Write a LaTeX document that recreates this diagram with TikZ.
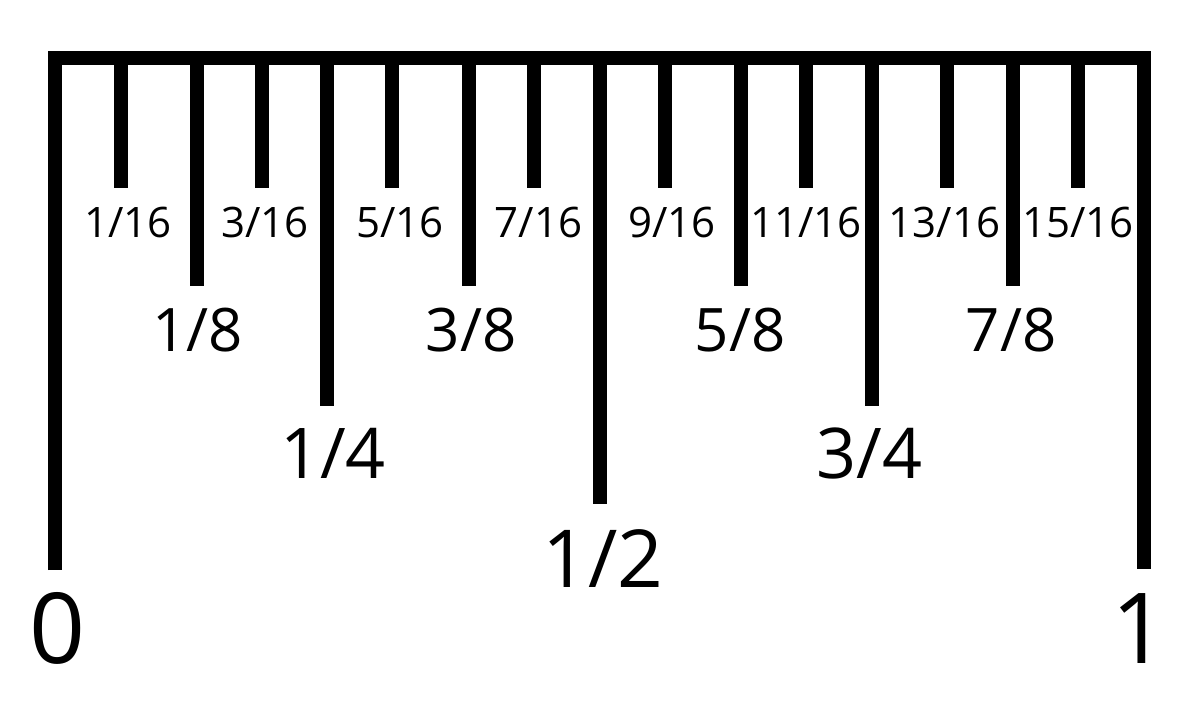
\documentclass[tikz,border=0pt]{standalone}
\usepackage{fontspec}
\setmainfont{Open Sans}
\begin{document}
\begin{tikzpicture}[x=1pt,y=-1pt,
  rul/.style={line width=14pt,line join=miter,line cap=butt,black},
  lbl/.style={inner sep=0pt,anchor=base,text=black},
  sixteen/.style={lbl,font=\fontsize{42}{44}\selectfont},
  eighth/.style={lbl,font=\fontsize{60}{62}\selectfont},
  quarter/.style={lbl,font=\fontsize{70}{72}\selectfont},
  half/.style={lbl,font=\fontsize{80}{82}\selectfont},
  whole/.style={lbl,font=\fontsize{98}{100}\selectfont}]
\useasboundingbox (0,0) rectangle (1200,702);
% frame
\coordinate (lb) at (55,570);
\coordinate (lt) at (55,58);
\coordinate (rt) at (1144,58);
\coordinate (rb) at (1144,569);
\draw[rul] (lb) -- (lt) -- (rt) -- (rb);
% ticks
\foreach \x/\b [count=\i] in {120.5/188,197/286,262/188,327/406,392/188,469/286,534/188,600/504,665/188,741/286,806/188,872/406,947/188,1013/286,1078/188}{
  \coordinate (t\i) at (\x,58);
  \coordinate (e\i) at (\x,\b);
  \draw[rul] (t\i) -- (e\i);
}
% labels
\node[whole] (l0) at (57.5,663) {0};
\node[whole] (l1) at (1140,663) {1};
\node[half] (l12) at (603,587) {1/2};
\node[quarter] (l14) at (333,478) {1/4};
\node[quarter] (l34) at (869.5,478) {3/4};
\node[eighth] (l18) at (197.5,351) {1/8};
\node[eighth] (l38) at (471,351) {3/8};
\node[eighth] (l58) at (740,351) {5/8};
\node[eighth] (l78) at (1011,351) {7/8};
\node[sixteen] (s1) at (128,237) {1/16};
\node[sixteen] (s3) at (265,237) {3/16};
\node[sixteen] (s5) at (400,237) {5/16};
\node[sixteen] (s7) at (538.5,237) {7/16};
\node[sixteen] (s9) at (672,237) {9/16};
\node[sixteen] (s11) at (806,237) {11/16};
\node[sixteen] (s13) at (944.5,237) {13/16};
\node[sixteen] (s15) at (1078,237) {15/16};
\end{tikzpicture}
\end{document}
